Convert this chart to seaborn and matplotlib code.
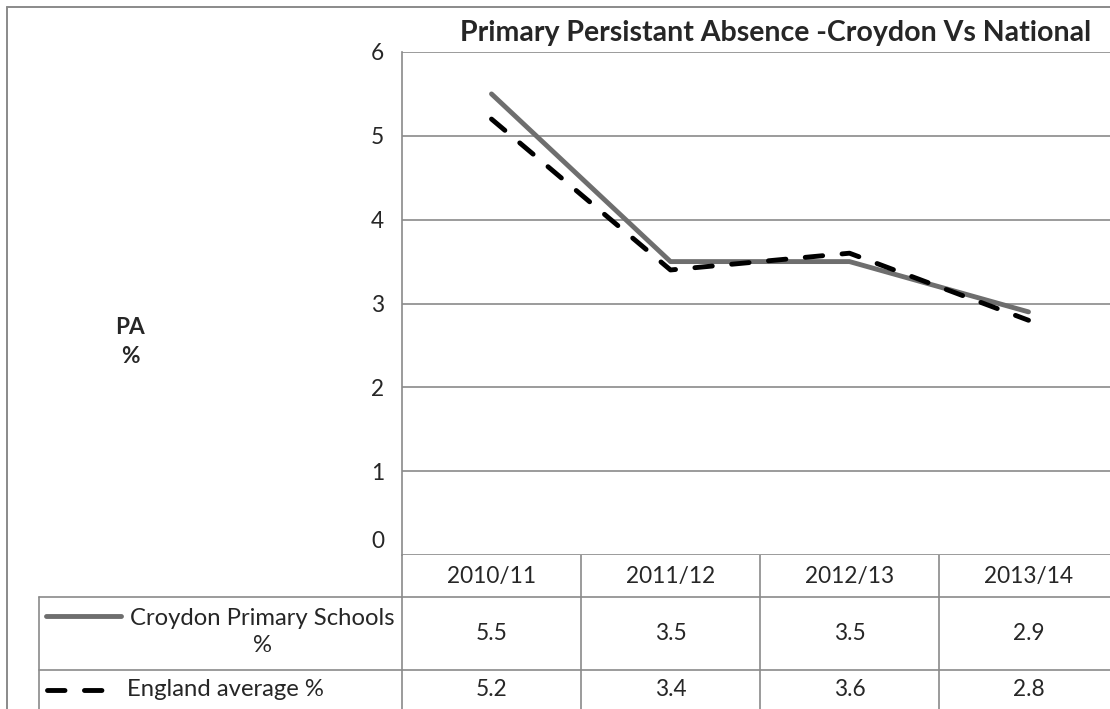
import pandas as pd
import seaborn as sns
import matplotlib.pyplot as plt
from matplotlib.transforms import offset_copy

# chart values
years = ['2010/11', '2011/12', '2012/13', '2013/14']
croydon = [5.5, 3.5, 3.5, 2.9]
england = [5.2, 3.4, 3.6, 2.8]
series_names = ['Croydon Primary Schools\n%', 'England average %']
yticks = [0, 1, 2, 3, 4, 5, 6]

sns.set_style('white')
plt.rcParams['font.family'] = ['Lato', 'DejaVu Sans']

W, H = 1110, 709
grid_col = '#8a8a8a'
gray_line = '#6e6e6e'
num_fs = 16.3
txt_fs = 17.2
lw = 3.5
dash = (3.6, 4.0)

fig = plt.figure(figsize=(W / 100, H / 100), dpi=100)

# plot area in pixel terms (right edge runs past the image)
left, right, top, bottom = 402, 1118, 52, 555
ax = fig.add_axes([left / W, 1 - bottom / H, (right - left) / W, (bottom - top) / H])

df = pd.DataFrame({'year': years, 'croydon': croydon, 'england': england})
sns.lineplot(data=df, x='year', y='croydon', ax=ax, color=gray_line, lw=lw,
             solid_capstyle='round', sort=False)
sns.lineplot(data=df, x='year', y='england', ax=ax, color='black', lw=lw,
             sort=False)
ax.lines[1].set_dashes(dash)
ax.lines[1].set_dash_capstyle('round')

ax.set_xlim(-0.5, 3.5)
ax.set_ylim(0, 6)
ax.set_yticks(yticks)
ax.set_yticklabels([str(t) for t in yticks], fontsize=num_fs)
ax.tick_params(axis='y', length=0, pad=13)
ax.set_xticks([])
ax.set_xlabel('')
ax.set_ylabel('')
for t in yticks:
    ax.axhline(t, color=grid_col, lw=1.2, zorder=0)
for s in ['top', 'right', 'bottom']:
    ax.spines[s].set_visible(False)
ax.spines['left'].set_color(grid_col)
ax.spines['left'].set_linewidth(1.2)

# bottom label sits above the data table
lab0 = ax.get_yticklabels()[0]
lab0.set_transform(offset_copy(lab0.get_transform(), fig=fig, y=15, units='dots'))

fig.text(776 / W, 1 - 33 / H, 'Primary Persistant Absence -Croydon Vs National',
         ha='center', va='center', fontsize=20.5, fontweight='bold')
fig.text(130 / W, 1 - 342 / H, 'PA\n%', ha='center', va='center',
         fontsize=num_fs, fontweight='bold', linespacing=1.45)

# overlay in pixel coordinates for the data table and frame
ov = fig.add_axes([0, 0, 1, 1], zorder=-1)
ov.set_xlim(0, W)
ov.set_ylim(H, 0)
ov.axis('off')

# outer frame
ov.plot([7, 7], [7, H], color=grid_col, lw=1.4)
ov.plot([7, W], [7, 7], color=grid_col, lw=1.4)

col_edges = [402, 581, 760, 939, 1118]
tab_left = 39
ov.plot([tab_left, W], [597, 597], color=grid_col, lw=1.2)
ov.plot([tab_left, W], [670, 670], color=grid_col, lw=1.2)
ov.plot([tab_left, tab_left], [597, H], color=grid_col, lw=1.2)
ov.plot([402, 402], [555, H], color=grid_col, lw=1.2)
for x in col_edges[1:-1]:
    ov.plot([x, x], [555, H], color=grid_col, lw=1.2)

centers = [(a + b) / 2 for a, b in zip(col_edges[:-1], col_edges[1:])]
for c, yr, v1, v2 in zip(centers, years, croydon, england):
    ov.text(c, 577, yr, ha='center', va='center', fontsize=num_fs)
    ov.text(c, 634, f'{v1}', ha='center', va='center', fontsize=num_fs)
    ov.text(c, 690, f'{v2}', ha='center', va='center', fontsize=num_fs)

# legend keys inside table
ov.plot([46, 121], [616, 616], color=gray_line, lw=lw, solid_capstyle='round')
ov.plot([47, 112], [690, 690], color='black', lw=lw, dashes=dash,
        dash_capstyle='round')
ov.text(262, 632, series_names[0], ha='center', va='center', fontsize=txt_fs,
        linespacing=1.4)
ov.text(127, 690, series_names[1], ha='left', va='center', fontsize=txt_fs)

fig.savefig('out.png', dpi=100)
